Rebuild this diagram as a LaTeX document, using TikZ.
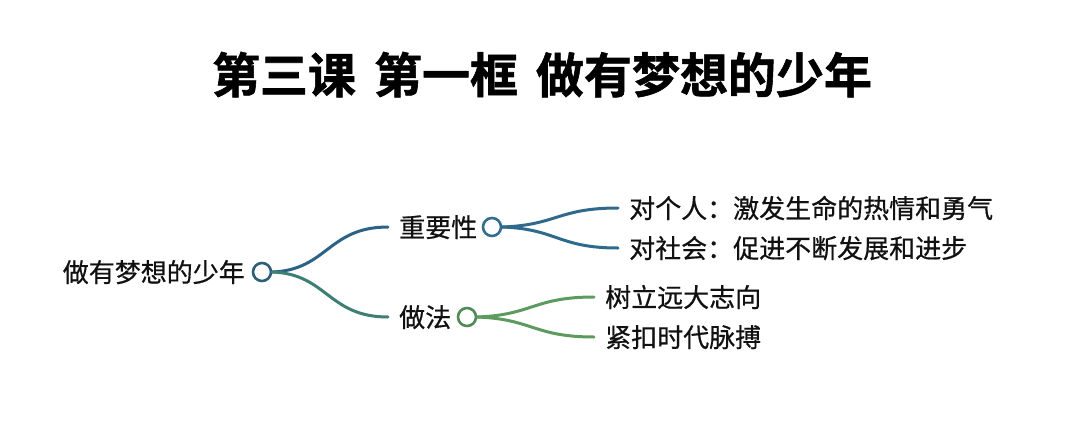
\documentclass[tikz,border=0pt]{standalone}
\usepackage{fontspec}
\setmainfont{Noto Sans CJK SC}
\newfontfamily\cjk[FakeBold=0.6]{Noto Sans CJK SC}
\newfontfamily\cjkb[FakeBold=1.2]{Noto Sans CJK SC Bold}
\definecolor{txt}{HTML}{111111}
\definecolor{blueA}{HTML}{2C6283}
\definecolor{tealA}{HTML}{3D7F74}
\definecolor{blueB}{HTML}{2F6A8C}
\definecolor{greenB}{HTML}{5C9A5E}
\definecolor{rcC}{HTML}{2F5F78}
\definecolor{icC}{HTML}{346E8E}
\definecolor{hcC}{HTML}{4F8A58}
\tikzset{
  lbl/.style={text=txt, font=\cjk\fontsize{26}{26}\selectfont, inner xsep=11pt, inner ysep=0pt, text height=23pt, text depth=3pt},
  dot/.style={circle, draw=#1, line width=2.6pt, minimum size=18pt, inner sep=0pt, fill=white},
  br/.style={draw=#1, line width=3pt, line cap=round},
}
\begin{document}
\begin{tikzpicture}[x=1pt,y=-1pt]
\useasboundingbox[fill=white] (0,0) rectangle (1080,429);
\node[text=black, font=\cjkb\fontsize{48}{48}\selectfont, inner sep=0pt, text height=42pt, text depth=6pt] (title) at (542,75) {第三课\hspace{18pt}第一框\hspace{18pt}做有梦想的少年};
% root
\node[lbl, anchor=east, inner xsep=0pt] (root) at (245,272) {做有梦想的少年};
\node[dot=rcC] (rc) at (262,272) {};
% level 1
\node[lbl, anchor=west] (imp) at (388,227) {重要性};
\node[dot=icC] (ic) at (492,227) {};
\node[lbl, anchor=west] (how) at (388,317) {做法};
\node[dot=hcC] (hc) at (467,317) {};
% leaves
\node[lbl, anchor=west] (l1) at (618,208) {对个人：激发生命的热情和勇气};
\node[lbl, anchor=west] (l2) at (618,248) {对社会：促进不断发展和进步};
\node[lbl, anchor=west] (l3) at (594,297) {树立远大志向};
\node[lbl, anchor=west] (l4) at (594,337) {紧扣时代脉搏};
% branches
\draw[br=blueA] (rc.east) .. controls +(55,-2) and +(-60,0) .. (imp.west);
\draw[br=tealA] (rc.east) .. controls +(55,2) and +(-60,0) .. (how.west);
\draw[br=blueB] (ic.east) .. controls +(55,-2) and +(-60,0) .. (l1.west);
\draw[br=blueB] (ic.east) .. controls +(55,2) and +(-60,0) .. (l2.west);
\draw[br=greenB] (hc.east) .. controls +(55,-2) and +(-60,0) .. (l3.west);
\draw[br=greenB] (hc.east) .. controls +(55,2) and +(-60,0) .. (l4.west);
\end{tikzpicture}
\end{document}
